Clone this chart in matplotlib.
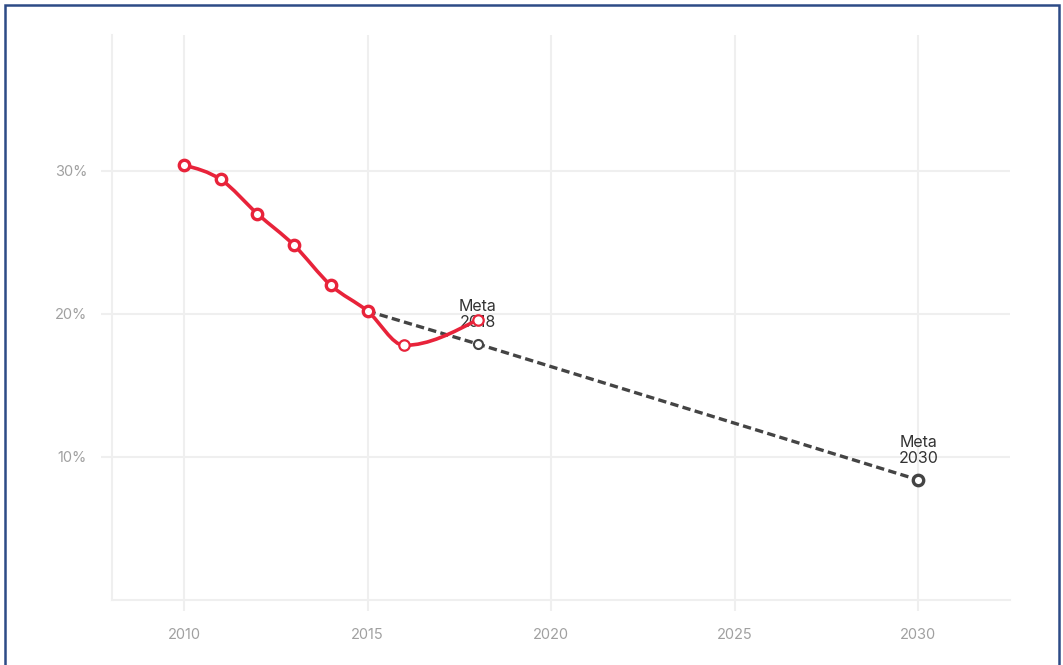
import matplotlib
matplotlib.use("Agg")
import matplotlib.pyplot as plt
import numpy as np
from matplotlib.path import Path
from matplotlib.patches import PathPatch, Rectangle
from matplotlib.ticker import FuncFormatter

plt.rcParams['font.family'] = ['Inter', 'DejaVu Sans']

# Data
years = [2010, 2011, 2012, 2013, 2014, 2015, 2016, 2018]
values = [30.4, 29.4, 27.0, 24.8, 22.0, 20.2, 17.8, 19.6]
target_years = [2015, 2018, 2030]
target_values = [20.2, 17.9, 8.4]
label_years = [2018, 2030]
label_values = [17.9, 8.4]
label_texts = ["Meta\n2018", "Meta\n2030"]
xticks = [2010, 2015, 2020, 2025, 2030]
yticks = [10, 20, 30]

RED = "#E8233A"
DARK = "#444444"
GRID = "#EFEFEF"
TICKC = "#A0A0A0"

W, H = 1063, 665
fig = plt.figure(figsize=(W / 100, H / 100), dpi=100)
ax = fig.add_axes([112 / W, 1 - 600 / H, (1010 - 112) / W, (600 - 35) / H])

ax.set_xlim(2008.04, 2032.5)
ax.set_ylim(0, 39.5)


def monotone_path(x, y):
    x = np.asarray(x, float)
    y = np.asarray(y, float)
    n = len(x)
    h = np.diff(x)
    s = np.diff(y) / h
    t = np.zeros(n)
    for i in range(1, n - 1):
        if s[i - 1] * s[i] <= 0:
            t[i] = 0
        else:
            p = (s[i - 1] * h[i] + s[i] * h[i - 1]) / (h[i - 1] + h[i])
            t[i] = (np.sign(s[i - 1]) + np.sign(s[i])) * min(abs(s[i - 1]), abs(s[i]), 0.5 * abs(p))
    t[0] = (3 * s[0] - t[1]) / 2 if n > 2 else s[0]
    t[-1] = (3 * s[-1] - t[-2]) / 2 if n > 2 else s[-1]
    verts = [(x[0], y[0])]
    codes = [Path.MOVETO]
    for i in range(n - 1):
        dx = h[i] / 3
        verts += [(x[i] + dx, y[i] + dx * t[i]), (x[i + 1] - dx, y[i + 1] - dx * t[i + 1]), (x[i + 1], y[i + 1])]
        codes += [Path.CURVE4] * 3
    return Path(verts, codes)


# grid & frame-like lines
for yt in yticks:
    ax.axhline(yt, color=GRID, lw=1.5, zorder=0)
for xt in xticks:
    ax.axvline(xt, color=GRID, lw=1.5, zorder=0)
ax.axvline(2008.04, color=GRID, lw=1.5, zorder=0, clip_on=False)
ax.axhline(0, color=GRID, lw=1.5, zorder=0, clip_on=False)

for sp in ax.spines.values():
    sp.set_visible(False)

ax.set_xticks(xticks)
ax.set_yticks(yticks)
ax.yaxis.set_major_formatter(FuncFormatter(lambda v, p: f"{v:.0f}%"))
ax.tick_params(axis='both', colors=GRID, length=8, width=1.5, labelcolor=TICKC, labelsize=10.5)
ax.tick_params(axis='x', pad=12)
ax.tick_params(axis='y', pad=10)

# target dashed line
ax.plot(target_years, target_values, color=DARK, lw=2.4, ls=(0, (2.5, 1.3)), zorder=2)
ax.plot(target_years[1:2], target_values[1:2], 'o', ms=6.5, mfc='white', mec=DARK, mew=1.5, zorder=3)
ax.plot(target_years[2:], target_values[2:], 'o', ms=7.5, mfc='white', mec=DARK, mew=2.4, zorder=3)

# labels
for lx, ly, lt in zip(label_years, label_values, label_texts):
    ax.annotate(lt, (lx, ly), xytext=(0, 10), textcoords='offset points', ha='center', va='bottom',
                fontsize=11.5, color="#333333", linespacing=1.05, zorder=4)

# red smooth line
ax.add_patch(PathPatch(monotone_path(years, values), facecolor='none', edgecolor=RED, lw=2.6, zorder=5))
ax.plot(years[:6], values[:6], 'o', ms=7.5, mfc='white', mec=RED, mew=2.4, zorder=6)
ax.plot(years[6:], values[6:], 'o', ms=7.5, mfc='white', mec=RED, mew=1.6, zorder=6)

# outer navy border
fig.patches.append(Rectangle((4.5 / W, -0.01), (1058.5 - 4.5) / W, 1 - 4.5 / H + 0.01,
                             transform=fig.transFigure, fill=False, edgecolor="#2D4B86", lw=1.8))

fig.savefig("out.png", dpi=100)
